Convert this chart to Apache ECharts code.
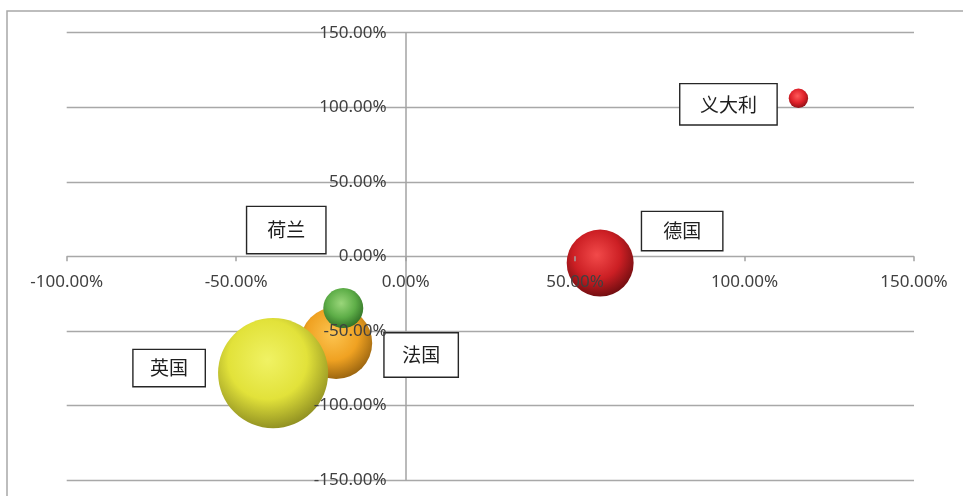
<!DOCTYPE html>
<html>
<head>
<meta charset="utf-8">
<script src="https://cdn.jsdelivr.net/npm/echarts@6/dist/echarts.min.js"></script>
<style>
html,body{margin:0;padding:0;background:#fff;}
#c{width:963px;height:496px;}
</style>
</head>
<body>
<div id="c"></div>
<script>
// Data (fractions; shown as percentages)
var countries = ['德国', '义大利', '法国', '英国', '荷兰'];
var xValues   = [0.574, 1.159, -0.205, -0.391, -0.184];
var yValues   = [-0.045, 1.060, -0.581, -0.783, -0.347];
var sizes     = [11.2, 0.94, 13.0, 30.3, 4.0];
var xTicks    = [-1.0, -0.5, 0, 0.5, 1.0, 1.5];
var yTicks    = [-1.5, -1.0, -0.5, 0, 0.5, 1.0, 1.5];

// Styling per country (label offsets relative to bubble, sphere colours)
var styles = {
  '德国':  {c: ['#f24a4a', '#cc1f24', '#6a0c0f'], off: [82, -32], w: 80, h: 38},
  '义大利': {c: ['#ff5a5a', '#e0222a', '#8a1015'], off: [-70, 6], w: 96, h: 40},
  '法国':  {c: ['#fcc450', '#f0a222', '#94600e'], off: [85, 12], w: 73, h: 43},
  '英国':  {c: ['#f0f264', '#e2e23a', '#8a8a20'], off: [-104, -5], w: 71, h: 36},
  '荷兰':  {c: ['#9ad67a', '#5eae48', '#2e6c24'], off: [-57, -78], w: 78, h: 46}
};

function pct(v) { return (v * 100).toFixed(2) + '%'; }

var W = 963, H = 496;
var G = {left: 66.7, right: 49, top: 32.7, bottom: 16};
var xMin = xTicks[0], xMax = xTicks[xTicks.length - 1];
var yMin = yTicks[0], yMax = yTicks[yTicks.length - 1];
// where the zero lines of the main grid fall (used to place label-only axes on them)
var zeroX = G.left + (W - G.left - G.right) * (0 - xMin) / (xMax - xMin);
var zeroY = G.top + (H - G.top - G.bottom) * (yMax - 0) / (yMax - yMin);

var series = countries.map(function (name, i) {
  var s = styles[name];
  return {
    type: 'scatter',
    name: name,
    xAxisIndex: 0,
    yAxisIndex: 0,
    data: [[xValues[i], yValues[i], sizes[i]]],
    symbolSize: function (d) { return 20 * Math.sqrt(d[2]); },
    itemStyle: {
      opacity: 1,
      color: {
        type: 'radial', x: 0.45, y: 0.38, r: 0.65,
        colorStops: [
          {offset: 0, color: s.c[0]},
          {offset: 0.55, color: s.c[1]},
          {offset: 1, color: s.c[2]}
        ]
      }
    },
    label: {
      show: true,
      position: 'inside',
      offset: s.off,
      formatter: name,
      width: s.w,
      height: s.h,
      align: 'center',
      verticalAlign: 'middle',
      lineHeight: s.h,
      fontSize: 19,
      fontFamily: 'Noto Sans CJK SC',
      color: '#1e1e1e',
      backgroundColor: '#ffffff',
      borderColor: '#262626',
      borderWidth: 1.4,
      padding: 0
    },
    emphasis: {disabled: true}
  };
});

var labelStyle = {fontSize: 17, fontFamily: 'Noto Sans', color: '#404040'};

var option = {
  animation: false,
  backgroundColor: '#ffffff',
  grid: [
    {left: G.left, right: G.right, top: G.top, bottom: G.bottom, containLabel: false, outerBoundsMode: 'none'},
    {left: zeroX, right: G.right, top: G.top, bottom: G.bottom, containLabel: false, outerBoundsMode: 'none'},
    {left: G.left, right: G.right, top: G.top, bottom: H - zeroY, containLabel: false, outerBoundsMode: 'none'}
  ],
  xAxis: [
    {
      gridIndex: 0, type: 'value', min: xMin, max: xMax, interval: 0.5,
      axisLine: {show: false},
      axisTick: {show: false},
      axisLabel: {show: false},
      splitLine: {show: false}
    },
    {gridIndex: 1, type: 'value', min: xMin, max: xMax, show: false},
    {
      gridIndex: 2, type: 'value', min: xMin, max: xMax, interval: 0.5,
      position: 'bottom', z: 10,
      axisLine: {show: false, onZero: false},
      axisTick: {show: true, length: 5, inside: false, lineStyle: {color: '#a3a3a3', width: 1.5}},
      axisLabel: Object.assign({show: true, margin: 17, formatter: pct, showMinLabel: true, showMaxLabel: true}, labelStyle),
      splitLine: {show: false}
    }
  ],
  yAxis: [
    {
      gridIndex: 0, type: 'value', min: yMin, max: yMax, interval: 0.5,
      position: 'left',
      axisLine: {show: true, onZero: true, onZeroAxisIndex: 0, lineStyle: {color: '#a3a3a3', width: 1.5}},
      axisTick: {show: false},
      axisLabel: {show: false},
      splitLine: {show: true, lineStyle: {color: '#a8a8a8', width: 1.4}}
    },
    {
      gridIndex: 1, type: 'value', min: yMin, max: yMax, interval: 0.5,
      position: 'left', z: 10,
      axisLine: {show: false, onZero: false},
      axisTick: {show: false},
      axisLabel: Object.assign({show: true, margin: 19, formatter: pct, showMinLabel: true, showMaxLabel: true}, labelStyle),
      splitLine: {show: false}
    },
    {gridIndex: 2, type: 'value', min: yMin, max: yMax, show: false}
  ],
  graphic: [
    {
      type: 'rect', silent: true, z: -1,
      shape: {x: 7, y: 11, width: 1000, height: 600},
      style: {fill: 'none', stroke: '#a8a8a8', lineWidth: 1.5}
    }
  ],
  series: series
};

var chart = echarts.init(document.getElementById('c'), null, {renderer: 'canvas'});
chart.setOption(option);
</script>
</body>
</html>
